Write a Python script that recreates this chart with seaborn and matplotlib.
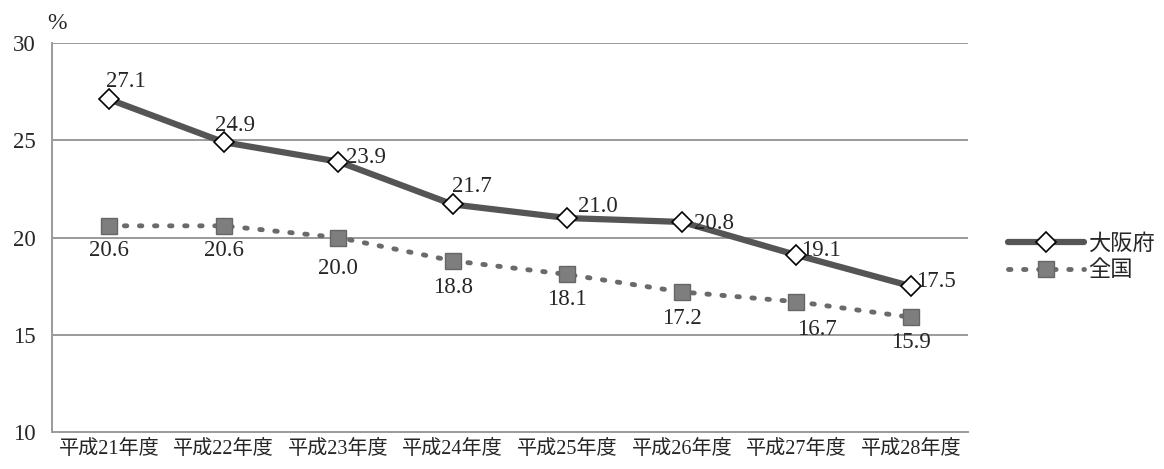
import pandas as pd
import matplotlib
matplotlib.use("Agg")
import matplotlib.pyplot as plt
from matplotlib.lines import Line2D
import seaborn as sns

# data
years = ["平成21年度", "平成22年度", "平成23年度", "平成24年度",
         "平成25年度", "平成26年度", "平成27年度", "平成28年度"]
osaka = [27.1, 24.9, 23.9, 21.7, 21.0, 20.8, 19.1, 17.5]
zenkoku = [20.6, 20.6, 20.0, 18.8, 18.1, 17.2, 16.7, 15.9]
series_names = ["大阪府", "全国"]
yticks = [10, 15, 20, 25, 30]

sns.set_style("white")
plt.rcParams['font.family'] = ['Liberation Serif', 'Noto Sans CJK JP', 'DejaVu Sans']

fig = plt.figure(figsize=(11.64, 4.69), dpi=100)
ax = fig.add_axes([0.0447, 0.0789, 0.787, 0.8294])

df = pd.DataFrame({"year": years, "osaka": osaka, "zenkoku": zenkoku})

osaka_style = dict(color="#555555", lw=4.5, marker="D", markersize=10,
                   markerfacecolor="white", markeredgecolor="black",
                   markeredgewidth=1.2)
zen_style = dict(color="#6a6a6a", lw=3.5, linestyle=(0, (0.5, 2.6)),
                 dash_capstyle="round", marker="s", markersize=12,
                 markerfacecolor="#7e7e7e", markeredgecolor="#666666",
                 markeredgewidth=1)

sns.lineplot(data=df, x="year", y="osaka", ax=ax, zorder=4, **osaka_style)
sns.lineplot(data=df, x="year", y="zenkoku", ax=ax, zorder=3, **zen_style)

# label offsets (points)
osaka_off = [(12, 13), (8, 12), (20, 3), (14, 13), (22, 8), (23, -1), (18, 3), (18, 3)]
zen_off = [(0, -18), (0, -18), (0, -22), (0, -19), (0, -18), (0, -19), (15, -20), (0, -18)]
for i, (a, b) in enumerate(zip(osaka, zenkoku)):
    ax.annotate(f"{a:.1f}", (i, a), xytext=osaka_off[i], textcoords="offset points",
                ha="center", va="center", fontsize=16.5, zorder=6)
    ax.annotate(f"{b:.1f}", (i, b), xytext=zen_off[i], textcoords="offset points",
                ha="center", va="center", fontsize=16.5, zorder=6)

ax.set_xlim(-0.5, len(years) - 0.5)
ax.set_ylim(10, 30)
ax.set_yticks(yticks)
ax.set_yticklabels([str(t) for t in yticks], fontsize=16.5)
ax.set_xticks(range(len(years)))
ax.set_xticklabels(years, fontsize=14.5)
ax.set_xticks([i + 0.5 for i in range(len(years) - 1)], minor=True)
ax.tick_params(axis="x", which="major", length=0, pad=6)
ax.tick_params(axis="x", which="minor", length=4, color="#888888", direction="inout")
ax.tick_params(axis="y", length=0, pad=12)
ax.set_xlabel("")
ax.set_ylabel("")
ax.grid(False)
for t in [15, 20, 25, 30]:
    ax.axhline(t, color="#9a9a9a", lw=1.4, zorder=1)

for s in ["top", "right"]:
    ax.spines[s].set_visible(False)
for s in ["left", "bottom"]:
    ax.spines[s].set_color("#9a9a9a")
    ax.spines[s].set_linewidth(1.4)

fig.text(0.049, 0.95, "%", fontsize=17, ha="center", va="center")

handles = [Line2D([], [], **osaka_style), Line2D([], [], **zen_style)]
fig.legend(handles, series_names, loc="center left", bbox_to_anchor=(0.849, 0.45),
           frameon=False, fontsize=16, handlelength=3.4, handletextpad=0.2,
           labelspacing=0.25)

fig.savefig("out.png", dpi=100)
